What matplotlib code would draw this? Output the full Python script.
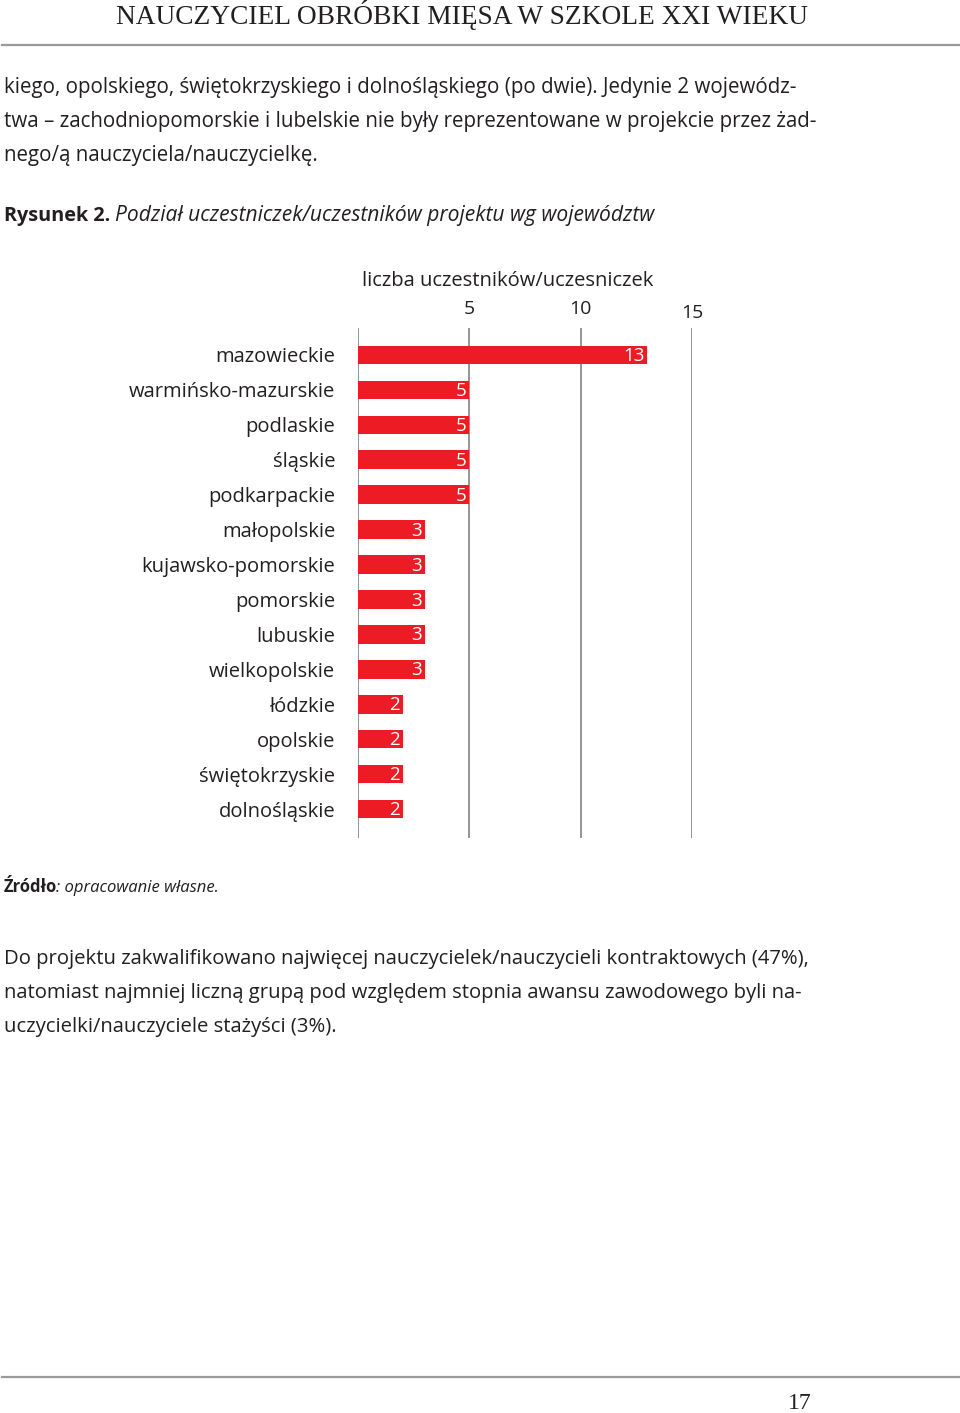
import matplotlib
matplotlib.use("Agg")
import matplotlib.pyplot as plt

# dane z wykresu
wojewodztwa = ["mazowieckie", "warmińsko-mazurskie", "podlaskie", "śląskie",
               "podkarpackie", "małopolskie", "kujawsko-pomorskie", "pomorskie",
               "lubuskie", "wielkopolskie", "łódzkie", "opolskie",
               "świętokrzyskie", "dolnośląskie"]
liczba = [13, 5, 5, 5, 5, 3, 3, 3, 3, 3, 2, 2, 2, 2]
ticks = [5, 10, 15]

W, H = 960, 1413
RED = "#ED1C24"
GRID = "#8c8c8c"
SANS = ["Open Sans", "DejaVu Sans"]
SERIF = ["Liberation Serif", "DejaVu Serif"]

fig = plt.figure(figsize=(W / 100, H / 100), dpi=100)

def fx(x):
    return x / W

def fy(y):
    return 1 - y / H

def txt(x, y, s, **kw):
    kw.setdefault("family", SANS)
    kw.setdefault("color", "#231f20")
    kw.setdefault("va", "baseline")
    fig.text(fx(x), fy(y), s, **kw)

# naglowek
txt(462, 24, "NAUCZYCIEL OBRÓBKI MIĘSA W SZKOLE XXI WIEKU", family=SERIF,
    fontsize=19.7, ha="center")
fig.add_artist(plt.Line2D([fx(2), fx(960)], [fy(45), fy(45)], color="#999999", lw=1.6))

# tekst akapitu
linie = ["kiego, opolskiego, świętokrzyskiego i dolnośląskiego (po dwie). Jedynie 2 wojewódz-",
         "twa – zachodniopomorskie i lubelskie nie były reprezentowane w projekcie przez żad-",
         "nego/ą nauczyciela/nauczycielkę."]
for i, l in enumerate(linie):
    txt(4, 93 + i * 34, l, fontsize=14.8)

txt(4, 221, "Rysunek 2.", fontsize=14.3, weight="bold")
txt(115, 221, "Podział uczestniczek/uczestników projektu wg województw", fontsize=15.1,
    style="italic")

# wykres
x0, x15 = 358, 692
top, bot = 328, 838
ax = fig.add_axes([fx(x0), fy(bot), fx(x15) - fx(x0), (bot - top) / H])
ypos = list(range(len(wojewodztwa)))
ax.barh(ypos, liczba, height=0.53, color=RED, zorder=3)
for y, v in zip(ypos, liczba):
    ax.text(v - 0.12, y + 0.03, str(v), color="white", ha="right", va="center",
            fontsize=13.5, family=SANS, zorder=4)
ax.set_xlim(0, 15)
sp = 35
ax.set_ylim(13 + (bot - 809) / sp, -(355 - top) / sp)
for t in ticks:
    ax.axvline(t, color=GRID, lw=1.3, zorder=1)
ax.axvline(0, color=GRID, lw=1.3, zorder=2)
for s in ax.spines.values():
    s.set_visible(False)
ax.set_xticks([])
ax.set_yticks(ypos)
ax.set_yticklabels(wojewodztwa, family=SANS, fontsize=14.5, color="#231f20")
ax.tick_params(axis="y", length=0, pad=16.5)
ax.patch.set_alpha(0)

txt(508, 286, "liczba uczestników/uczesniczek", fontsize=14.5, ha="center")
for t, yy in zip(ticks, [314, 314, 318]):
    fig.text(ax.transData.transform((t, 0))[0] / W, fy(yy), str(t), family=SANS,
             fontsize=14, ha="center", va="baseline", color="#231f20")

# zrodlo
txt(4, 892, "Źródło", fontsize=12, weight="bold")
txt(56, 892, ": opracowanie własne.", fontsize=12, style="italic")

# drugi akapit
linie2 = ["Do projektu zakwalifikowano najwięcej nauczycielek/nauczycieli kontraktowych (47%),",
          "natomiast najmniej liczną grupą pod względem stopnia awansu zawodowego byli na-",
          "uczycielki/nauczyciele stażyści (3%)."]
for i, l in enumerate(linie2):
    txt(4, 964 + i * 34, l, fontsize=14.6)

# stopka
fig.add_artist(plt.Line2D([fx(2), fx(960)], [fy(1377), fy(1377)], color="#999999", lw=1.6))
txt(800, 1409, "17", family=SERIF, fontsize=17, ha="center")

fig.savefig("out.png", dpi=100)
